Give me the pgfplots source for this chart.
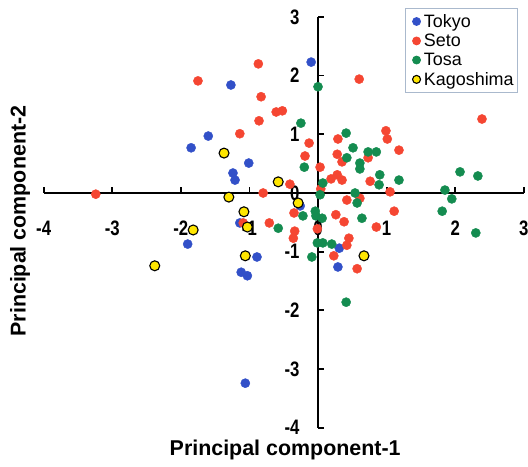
\documentclass[border=0pt]{standalone}
\usepackage{fontspec}
\setmainfont{Liberation Sans}
\newfontfamily\tickfont[FakeStretch=0.8]{Liberation Sans}
\usepackage{pgfplots}
\pgfplotsset{compat=1.18}
\definecolor{tokyoblue}{RGB}{50,80,200}
\definecolor{setored}{RGB}{245,70,50}
\definecolor{tosagreen}{RGB}{20,140,80}
\definecolor{kagyellow}{RGB}{255,230,0}
\definecolor{legframe}{RGB}{170,185,205}
\begin{document}
\begin{tikzpicture}
\begin{axis}[
  x=68.6bp, y=58.7bp,
  xmin=-4, xmax=3, ymin=-4, ymax=3,
  axis lines=middle,
  axis line style={-, line width=1.8bp, black},
  tick style={line width=1.8bp, black},
  major tick length=6bp,
  tick align=inside,
  hide obscured x ticks=false, hide obscured y ticks=false,
  xtick={-4,-3,-2,-1,0,1,2,3},
  ytick={-4,-3,-2,-1,0,1,2,3},
  xticklabels={-4,-3,-2,-1,0,1,2,3},
  yticklabels={-4,-3,-2,-1,0,1,2,3},
  xticklabel style={font=\tickfont\bfseries\fontsize{21}{21}\selectfont, anchor=center, yshift=-35bp},
  yticklabel style={font=\tickfont\bfseries\fontsize{21}{21}\selectfont, anchor=east, xshift=-15bp},
  xlabel={Principal component-1},
  ylabel={Principal component-2},
  xlabel style={font=\bfseries\fontsize{21.5}{21}\selectfont, at={(axis description cs:0.503,-0.054)}, anchor=center},
  ylabel style={font=\bfseries\fontsize{21.5}{21}\selectfont, at={(axis description cs:-0.049,0.503)}, anchor=center, rotate=90},
  clip=false,
  legend style={at={(axis description cs:0.988,1.022)}, anchor=north east,
    draw=legframe, line width=0.8bp, font=\fontsize{18}{20}\selectfont,
    inner xsep=2bp, inner ysep=4bp, row sep=1.2bp, cells={anchor=west}},
  legend image code/.code={\path (-9bp,0bp) (5bp,0bp); \draw[#1, mark size=4pt] plot coordinates {(0bp,0bp)};},
  legend cell align=left,
]
\addplot[only marks, color=tokyoblue, mark=*, mark size=4.6pt, mark options={fill=tokyoblue, draw=tokyoblue}] table {
-1.27 1.84
-1.60 0.97
-1.85 0.77
-1.01 0.51
-1.24 0.34
-1.21 0.22
-0.10 2.23
-1.14 -0.51
-1.90 -0.87
-0.89 -1.09
-1.12 -1.35
-1.03 -1.41
-1.06 -3.24
-0.26 -0.22
0.31 -0.94
0.29 -1.26
};
\addlegendentry{Tokyo}
\addplot[only marks, color=setored, mark=*, mark size=4.6pt, mark options={fill=setored, draw=setored}] table {
-1.75 1.91
-0.87 2.20
-0.83 1.64
-0.86 1.23
-1.14 1.01
-3.24 -0.02
-0.80 0.00
-0.71 -0.51
-1.09 -0.51
-0.61 1.38
-0.52 1.40
-0.13 0.85
-0.19 0.63
0.03 0.44
-0.41 0.15
0.60 1.94
2.39 1.26
0.99 1.06
1.01 0.92
1.18 0.73
0.29 0.92
0.28 0.66
0.35 0.53
0.73 0.60
0.19 0.24
0.28 0.31
0.35 0.22
0.76 0.20
1.05 0.02
0.42 -0.12
0.61 -0.09
1.11 -0.31
-0.35 -0.34
-0.34 -0.65
-0.36 -0.77
0.26 -0.37
0.38 -0.49
0.85 -0.58
0.45 -0.77
0.42 -0.89
0.23 -1.07
0.57 -1.29
-0.01 -0.61
0.04 0.07
};
\addlegendentry{Seto}
\addplot[only marks, color=tosagreen, mark=*, mark size=4.6pt, mark options={fill=tosagreen, draw=tosagreen}] table {
0.00 1.81
-0.25 1.19
0.41 1.02
0.51 0.77
0.42 0.60
0.61 0.51
0.61 0.41
0.73 0.70
0.85 0.70
-0.20 0.44
0.90 0.31
0.89 0.14
1.18 0.22
2.07 0.36
2.33 0.29
0.07 0.17
0.03 -0.03
0.54 0.00
0.57 -0.17
1.85 0.05
1.95 -0.10
1.81 -0.31
-0.22 -0.39
-0.04 -0.31
-0.03 -0.39
0.06 -0.43
0.64 -0.43
-0.58 -0.60
2.30 -0.68
-0.01 -0.85
0.07 -0.85
0.20 -0.87
-0.09 -1.09
0.41 -1.86
};
\addlegendentry{Tosa}
\addplot[only marks, color=black, mark=*, mark size=5pt, mark options={fill=kagyellow, draw=black, line width=1.1bp}] table {
-1.37 0.68
-1.30 -0.07
-1.08 -0.32
-1.03 -0.58
-1.82 -0.63
-2.38 -1.24
-1.06 -1.07
-0.58 0.19
-0.29 -0.17
0.67 -1.07
};
\addlegendentry{Kagoshima}
\coordinate (bl) at (axis cs:-4.636,-4.651);
\coordinate (tr) at (axis cs:3.061,3.288);
\end{axis}
\pgfresetboundingbox
\path[use as bounding box] (bl) rectangle (tr);
\end{tikzpicture}
\end{document}
